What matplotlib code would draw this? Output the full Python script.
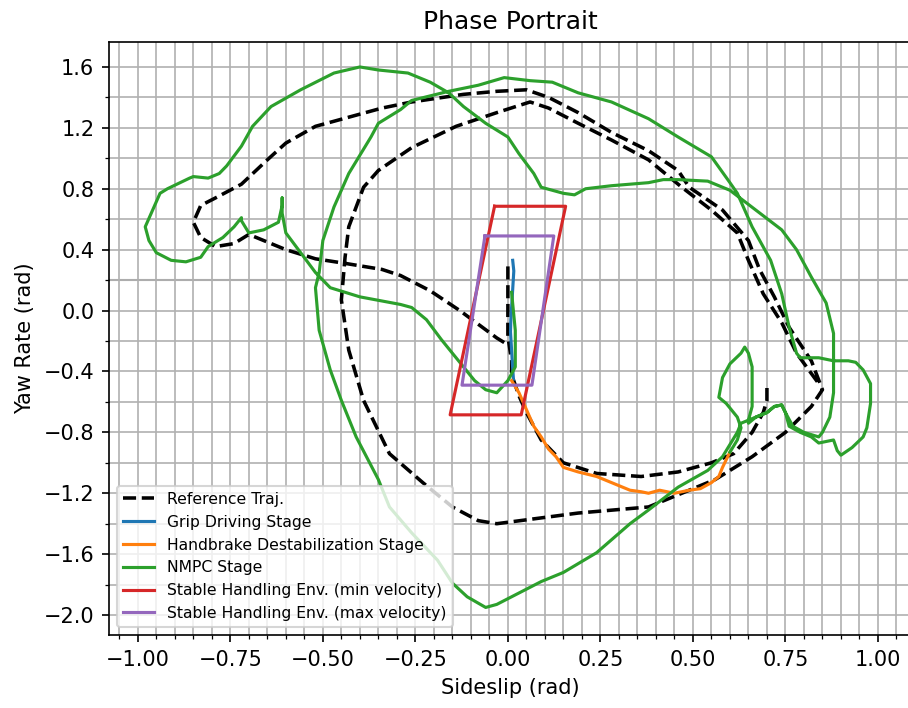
import matplotlib
matplotlib.use("Agg")
import matplotlib.pyplot as plt
from matplotlib.ticker import MultipleLocator

# Reference trajectory, inner branch (from the origin to the lower tip)
ref_inner_x = [0.00, 0.00, 0.00, 0.01, 0.01, 0.03, 0.05, 0.09, 0.15, 0.24, 0.36, 0.46,
               0.55, 0.61, 0.66, 0.69, 0.70, 0.70]
ref_inner_y = [0.29, 0.07, -0.17, -0.33, -0.42, -0.56, -0.67, -0.85, -1.00, -1.07, -1.09, -1.06,
               -1.00, -0.94, -0.80, -0.67, -0.59, -0.48]

# Reference trajectory, outer loop
ref_outer_x = [-0.01, -0.03, -0.08, -0.13, -0.21, -0.29, -0.34, -0.44, -0.52, -0.60, -0.66, -0.70,
               -0.74, -0.79, -0.83, -0.85, -0.83, -0.79, -0.72, -0.65, -0.60, -0.52, -0.43, -0.34,
               -0.26, -0.12, -0.03, 0.05, 0.11, 0.19, 0.28, 0.38, 0.46, 0.49, 0.58, 0.65,
               0.68, 0.72, 0.76, 0.82, 0.85, 0.82, 0.75, 0.66, 0.56, 0.47, 0.38, 0.19,
               -0.03, -0.08, -0.15, -0.23, -0.32, -0.39, -0.43, -0.45, -0.44, -0.43, -0.39, -0.35,
               -0.26, -0.14, -0.03, 0.06, 0.11, 0.19, 0.28, 0.38, 0.47, 0.55, 0.62, 0.65,
               0.69, 0.74, 0.78, 0.84]
ref_outer_y = [-0.21, -0.18, -0.09, 0.00, 0.13, 0.23, 0.27, 0.31, 0.34, 0.40, 0.46, 0.50,
               0.44, 0.42, 0.48, 0.58, 0.69, 0.74, 0.83, 0.99, 1.10, 1.21, 1.27, 1.33,
               1.37, 1.42, 1.44, 1.45, 1.40, 1.30, 1.17, 1.05, 0.92, 0.81, 0.66, 0.46,
               0.27, 0.09, -0.11, -0.33, -0.52, -0.63, -0.80, -0.96, -1.11, -1.20, -1.29, -1.33,
               -1.40, -1.38, -1.29, -1.13, -0.94, -0.59, -0.26, 0.07, 0.35, 0.55, 0.81, 0.92,
               1.07, 1.21, 1.30, 1.37, 1.33, 1.23, 1.12, 0.99, 0.81, 0.66, 0.51, 0.33,
               0.11, -0.08, -0.28, -0.48]

# Grip driving stage
grip_x = [0.013, 0.016, 0.014, 0.012, 0.010, 0.008, 0.007, 0.009, 0.011, 0.013, 0.015]
grip_y = [0.33, 0.26, 0.18, 0.10, 0.02, -0.06, -0.14, -0.22, -0.30, -0.38, -0.45]

# Handbrake destabilization stage
hb_x = [0.01, 0.03, 0.05, 0.07, 0.09, 0.11, 0.13, 0.15, 0.19, 0.24, 0.28, 0.33, 0.36, 0.38,
        0.41, 0.45, 0.49, 0.52, 0.55, 0.57, 0.58, 0.60]
hb_y = [-0.46, -0.54, -0.65, -0.76, -0.83, -0.91, -0.96, -1.03, -1.06, -1.09, -1.13, -1.18,
        -1.19, -1.20, -1.18, -1.20, -1.18, -1.17, -1.13, -1.09, -1.03, -0.93]

# NMPC stage
nmpc_x = [0.60, 0.62, 0.63, 0.62, 0.59, 0.57, 0.58, 0.60, 0.63, 0.64, 0.65, 0.66, 0.66, 0.66,
          0.65, 0.65, 0.67, 0.70, 0.72, 0.74, 0.75, 0.76, 0.79, 0.82, 0.84, 0.88, 0.89, 0.90,
          0.93, 0.96, 0.97, 0.98, 0.98, 0.96, 0.94, 0.92, 0.88, 0.84, 0.79, 0.78, 0.76, 0.74,
          0.71, 0.66, 0.62, 0.60, 0.55, 0.46, 0.38, 0.28, 0.19, 0.12, 0.06, -0.01, -0.08, -0.16,
          -0.26, -0.29, -0.35, -0.37, -0.43, -0.47, -0.50, -0.51, -0.52, -0.51, -0.48, -0.45,
          -0.41, -0.35, -0.32, -0.26, -0.19, -0.15, -0.11, -0.06, -0.03, 0.01, 0.09, 0.15,
          0.24, 0.33, 0.38, 0.46, 0.54, 0.58, 0.62, 0.63, 0.67, 0.70, 0.72, 0.74, 0.75, 0.77,
          0.80, 0.84, 0.85, 0.87, 0.88, 0.88, 0.88, 0.86, 0.82, 0.78, 0.74, 0.67, 0.60, 0.54,
          0.46, 0.42, 0.38, 0.28, 0.21, 0.18, 0.15, 0.09, 0.07, 0.03, 0.00, -0.06, -0.12, -0.16,
          -0.21, -0.27, -0.35, -0.40, -0.47, -0.56, -0.64, -0.69, -0.72, -0.76, -0.78, -0.81,
          -0.85, -0.86, -0.92, -0.94, -0.96, -0.98, -0.97, -0.95, -0.91, -0.87, -0.83, -0.81,
          -0.77, -0.74, -0.72, -0.72, -0.70, -0.66, -0.62, -0.61, -0.61, -0.61, -0.60, -0.56,
          -0.52, -0.48, -0.40, -0.29, -0.26, -0.22, -0.18, -0.13, -0.09, -0.06, -0.03, 0.00,
          0.02, 0.02, 0.01]
nmpc_y = [-0.93, -0.85, -0.77, -0.70, -0.61, -0.57, -0.44, -0.35, -0.28, -0.24, -0.28, -0.37,
          -0.50, -0.63, -0.72, -0.74, -0.70, -0.67, -0.63, -0.62, -0.67, -0.76, -0.80, -0.83,
          -0.87, -0.85, -0.92, -0.95, -0.90, -0.83, -0.77, -0.61, -0.48, -0.39, -0.34, -0.33,
          -0.33, -0.31, -0.31, -0.28, -0.11, 0.11, 0.33, 0.55, 0.77, 0.84, 1.01, 1.14, 1.26,
          1.37, 1.43, 1.50, 1.51, 1.53, 1.48, 1.44, 1.38, 1.32, 1.23, 1.14, 0.90, 0.68, 0.46,
          0.25, 0.15, -0.13, -0.39, -0.59, -0.83, -1.11, -1.29, -1.46, -1.64, -1.79, -1.88,
          -1.95, -1.93, -1.88, -1.78, -1.72, -1.59, -1.40, -1.31, -1.16, -1.05, -0.96, -0.80,
          -0.74, -0.70, -0.67, -0.63, -0.62, -0.67, -0.76, -0.80, -0.83, -0.80, -0.70, -0.54,
          -0.33, -0.15, 0.05, 0.22, 0.40, 0.53, 0.66, 0.79, 0.85, 0.86, 0.86, 0.84, 0.82, 0.80,
          0.76, 0.77, 0.81, 0.90, 1.03, 1.14, 1.23, 1.34, 1.43, 1.50, 1.56, 1.58, 1.60, 1.56,
          1.45, 1.34, 1.21, 1.08, 0.95, 0.90, 0.87, 0.88, 0.87, 0.80, 0.77, 0.66, 0.55, 0.46,
          0.38, 0.33, 0.32, 0.35, 0.42, 0.48, 0.55, 0.61, 0.59, 0.51, 0.53, 0.58, 0.69, 0.74,
          0.64, 0.51, 0.38, 0.25, 0.15, 0.09, 0.04, 0.02, -0.06, -0.19, -0.34, -0.46, -0.52,
          -0.54, -0.46, -0.37, -0.13, 0.12]

# Stable handling envelopes (closed parallelograms)
env_min_x = [-0.036, 0.156, 0.036, -0.156, -0.036]
env_min_y = [0.685, 0.685, -0.685, -0.685, 0.685]
env_max_x = [-0.062, 0.124, 0.065, -0.124, -0.062]
env_max_y = [0.49, 0.49, -0.49, -0.49, 0.49]

fig = plt.figure(figsize=(908 / 150, 708 / 150), dpi=150)
ax = fig.add_axes([0.120, 0.1031, 0.8844, 0.8376])

ax.plot(ref_inner_x, ref_inner_y, "k--", lw=1.7, label="Reference Traj.")
ax.plot(ref_outer_x, ref_outer_y, "k--", lw=1.7)
ax.plot(grip_x, grip_y, color="C0", label="Grip Driving Stage")
ax.plot(hb_x, hb_y, color="C1", label="Handbrake Destabilization Stage")
ax.plot(nmpc_x, nmpc_y, color="C2", label="NMPC Stage")
ax.plot(env_min_x, env_min_y, color="C3", label="Stable Handling Env. (min velocity)")
ax.plot(env_max_x, env_max_y, color="C4", label="Stable Handling Env. (max velocity)")

ax.set_xlim(-1.078, 1.092)
ax.set_ylim(-2.131, 1.764)
ax.xaxis.set_major_locator(MultipleLocator(0.25))
ax.xaxis.set_minor_locator(MultipleLocator(0.05))
ax.yaxis.set_major_locator(MultipleLocator(0.4))
ax.yaxis.set_minor_locator(MultipleLocator(0.2))
ax.grid(which="both", color="#b0b0b0", linewidth=0.8)
ax.axhline(0.2, color="#a0a0a0", linewidth=1.0, zorder=0.5)
ax.set_axisbelow(True)
ax.spines["right"].set_visible(False)

ax.set_title("Phase Portrait")
ax.set_xlabel("Sideslip (rad)")
ax.set_ylabel("Yaw Rate (rad)")
ax.legend(loc="lower left", fontsize=7.5)

fig.savefig("out.png", dpi=150)
